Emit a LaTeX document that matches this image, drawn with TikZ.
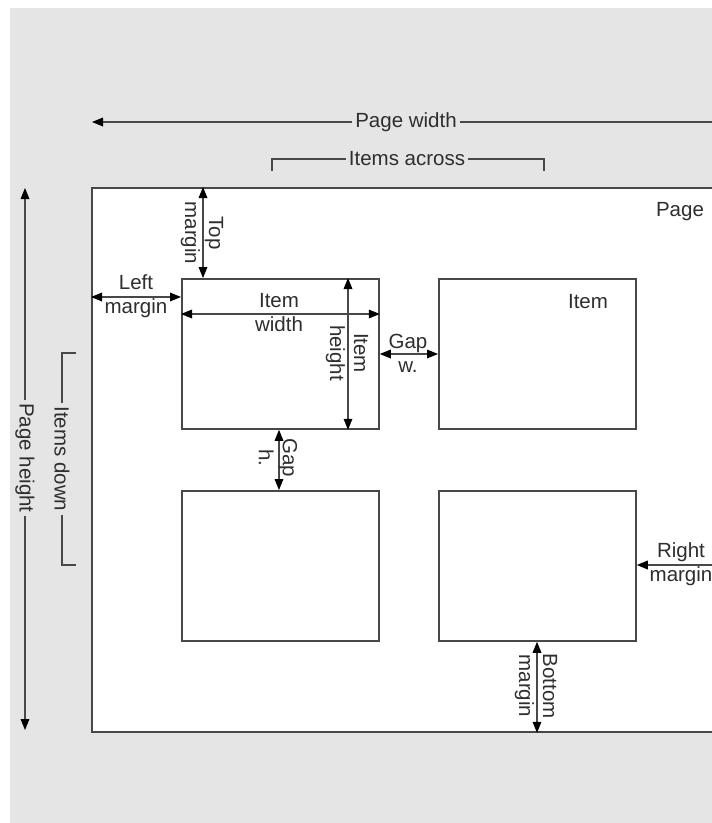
\documentclass[tikz,border=0pt]{standalone}
\usepackage{fontspec}
\setmainfont{Liberation Sans}
\usetikzlibrary{arrows.meta}
\definecolor{bggray}{HTML}{E5E5E5}
\definecolor{ln}{HTML}{484848}
\definecolor{tx}{HTML}{2E2E2E}
\tikzset{
  box/.style={draw=ln, line width=1.8pt, fill=white, inner sep=0pt, anchor=north west},
  plain/.style={draw=ln, line width=1.7pt},
  tip/.tip={Triangle[length=11pt,width=9pt,line width=0pt,color=black]},
  dim/.style={plain, tip-tip},
  single/.style={plain, -tip},
  lbl/.style={text=tx, font=\fontsize{20.5}{24}\selectfont, align=center, inner sep=3pt},
}
\begin{document}
\begin{tikzpicture}[x=1pt,y=-1pt]
\useasboundingbox (0,0) rectangle (712,823);
\clip (0,0) rectangle (712,823);
\fill[white] (0,0) rectangle (712,823);
\fill[bggray] (10,8) rectangle (712,823);

% page and items
\node[box, minimum width=700pt, minimum height=544pt] (page) at (91,187) {};
\node[box, minimum width=197pt, minimum height=150pt] (i11) at (181,278) {};
\node[box, minimum width=197pt, minimum height=150pt] (i12) at (438,278) {};
\node[box, minimum width=197pt, minimum height=150pt] (i21) at (181,490) {};
\node[box, minimum width=197pt, minimum height=150pt] (i22) at (438,490) {};

\node[lbl] (pagel) at (680,212) {Page};
\node[lbl] (iteml) at (588,302) {Item};

% page width
\coordinate (pwL) at (92,122);
\coordinate (pwR) at (730,122);
\node[lbl] (pwl) at (406,122) {Page width};
\draw[single] (pwl.west) -- (pwL);
\draw[plain] (pwl.east) -- (pwR);

% items across
\coordinate (iaL) at (272,171);
\coordinate (iaR) at (544,171);
\node[lbl] (ial) at (407,159) {Items across};
\draw[plain] (ial.west) -| (iaL);
\draw[plain] (ial.east) -| (iaR);

% page height
\coordinate (phT) at (25,188);
\coordinate (phB) at (25,730);
\node[lbl, rotate=-90] (phl) at (25,458) {Page height};
\draw[single] (phl.west) -- (phT);
\draw[single] (phl.east) -- (phB);

% items down
\coordinate (idT) at (76,353);
\coordinate (idB) at (76,565);
\node[lbl, rotate=-90] (idl) at (62,459) {Items down};
\draw[plain] (idl.west) |- (idT);
\draw[plain] (idl.east) |- (idB);

% top margin
\coordinate (xTM) at (203,0);
\draw[dim] (xTM |- page.north) -- (xTM |- i11.north);
\node[lbl, rotate=-90] (tml) at (202,233) {Top\\margin};

% left margin
\coordinate (yLM) at (0,297);
\draw[dim] (yLM -| page.west) -- (yLM -| i11.west);
\node[lbl] (lml) at (136,296) {Left\\margin};

% item width
\coordinate (yIW) at (0,314);
\draw[dim] (yIW -| i11.west) -- (yIW -| i11.east);
\node[lbl] (iwl) at (279,313) {Item\\width};

% item height
\coordinate (xIH) at (348,0);
\draw[dim] (xIH |- i11.north) -- (xIH |- i11.south);
\node[lbl, rotate=-90] (ihl) at (347,353) {Item\\height};

% gap w
\coordinate (yGW) at (0,354);
\draw[dim] (yGW -| i11.east) -- (yGW -| i12.west);
\node[lbl] (gwl) at (408,353) {Gap\\w.};

% gap h
\coordinate (xGH) at (279,0);
\draw[dim] (xGH |- i11.south) -- (xGH |- i21.north);
\node[lbl, rotate=-90] (ghl) at (278,458) {Gap\\h.};

% right margin
\coordinate (rmR) at (730,565);
\draw[single] (rmR) -- (rmR -| i22.east);
\node[lbl] (rml) at (681,564) {Right\\margin};

% bottom margin
\coordinate (xBM) at (537,0);
\draw[dim] (xBM |- i22.south) -- (xBM |- page.south);
\node[lbl, rotate=-90] (bml) at (536,686) {Bottom\\margin};
\end{tikzpicture}
\end{document}
